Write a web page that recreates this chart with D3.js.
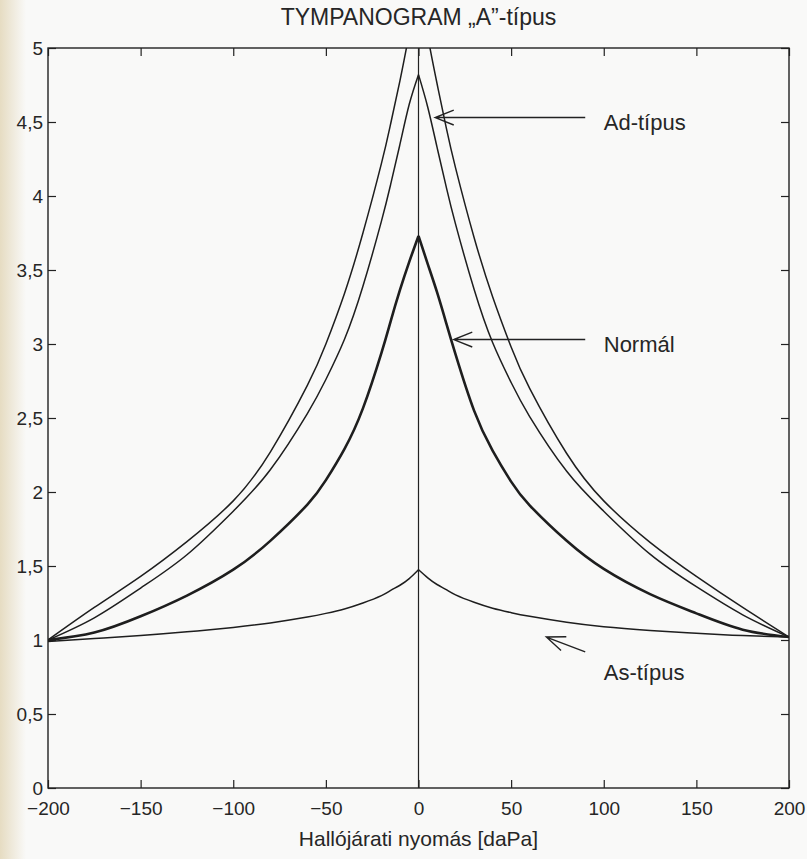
<!DOCTYPE html>
<html>
<head>
<meta charset="utf-8">
<script src="https://cdn.jsdelivr.net/npm/d3@7"></script>
<style>
  html, body { margin: 0; padding: 0; background: #f9f9f8; }
  svg { display: block; }
  text { font-family: "Liberation Sans", Arial, sans-serif; fill: #262626; }
</style>
</head>
<body>
<svg id="chart"></svg>
<script>

var width = 807,
	height = 859;

var pressure = [-200, -175, -150, -125, -100, -80, -60, -50, -40, -30, -20, -15, -10, -5, 0,
	5, 10, 15, 20, 30, 40, 50, 60, 80, 100, 125, 150, 175, 200];

// admittance values, one list per curve
var adType = [1.00, 1.22, 1.43, 1.665, 1.94, 2.27, 2.72, 3.00, 3.34, 3.75, 4.22, 4.49, 4.78, 5.10, 5.44,
	5.08, 4.76, 4.46, 4.19, 3.72, 3.32, 2.98, 2.70, 2.26, 1.94, 1.66, 1.43, 1.22, 1.02];
var highType = [1.00, 1.15, 1.351, 1.576, 1.87, 2.15, 2.53, 2.76, 3.03, 3.39, 3.83, 4.08, 4.35, 4.62, 4.82,
	4.60, 4.33, 4.06, 3.81, 3.37, 3.01, 2.74, 2.51, 2.14, 1.87, 1.58, 1.36, 1.17, 1.02];
var normal = [1.00, 1.05, 1.16, 1.30, 1.475, 1.67, 1.915, 2.08, 2.29, 2.565, 2.94, 3.155, 3.365, 3.555, 3.73,
	3.54, 3.35, 3.14, 2.93, 2.55, 2.28, 2.07, 1.91, 1.67, 1.48, 1.31, 1.18, 1.07, 1.02];
var asType = [0.99, 1.01, 1.03, 1.055, 1.085, 1.115, 1.155, 1.18, 1.21, 1.25, 1.30, 1.335, 1.37, 1.415, 1.475,
	1.42, 1.375, 1.34, 1.305, 1.255, 1.215, 1.185, 1.16, 1.12, 1.09, 1.065, 1.045, 1.03, 1.02];

var series = [adType, highType, normal, asType];
var seriesWidth = [1.5, 1.5, 2.6, 1.5];

var xTicks = [-200, -150, -100, -50, 0, 50, 100, 150, 200];
var xTickLabels = ["\u2212200", "\u2212150", "\u2212100", "\u221250", "0", "50", "100", "150", "200"];
var yTicks = [0, 0.5, 1, 1.5, 2, 2.5, 3, 3.5, 4, 4.5, 5];
var yTickLabels = ["0", "0,5", "1", "1,5", "2", "2,5", "3", "3,5", "4", "4,5", "5"];

// annotations: label, arrow tip, arrow tail, label anchor (data units)
var noteLabels = ["Ad-t\u00edpus", "Norm\u00e1l", "As-t\u00edpus"];
var noteTip = [[9, 4.53], [19, 3.03], [69, 1.02]];
var noteTail = [[90, 4.53], [90, 3.03], [90, 0.92]];
var noteText = [[100, 4.5], [100, 3.0], [100, 0.78]];

var margin = {top: 48, right: 18, bottom: 71, left: 48};

var svg = d3.select("#chart")
	.attr("width", width)
	.attr("height", height);

// faint yellowed edge of the scanned page
var grad = svg.append("defs").append("linearGradient").attr("id", "edge");
grad.append("stop").attr("offset", "0").attr("stop-color", "#e6dcc2");
grad.append("stop").attr("offset", "1").attr("stop-color", "#f9f9f8");
svg.append("rect").attr("width", 26).attr("height", height).attr("fill", "url(#edge)");

var x = d3.scaleLinear().domain([-200, 200]).range([margin.left, width - margin.right]);
var y = d3.scaleLinear().domain([0, 5]).range([height - margin.bottom, margin.top]);

svg.append("defs").append("clipPath").attr("id", "plot")
	.append("rect")
	.attr("x", x(-200)).attr("y", y(5))
	.attr("width", x(200) - x(-200)).attr("height", y(0) - y(5));

// axes, ticks pointing inward like the original
var axisStyle = function(g) {
	g.select(".domain").remove();
	g.selectAll(".tick line").attr("stroke", "#222").attr("stroke-width", 1.2);
	g.selectAll("text").attr("fill", "#262626").style("font-size", "19px")
		.style("font-family", "\"Liberation Sans\", Arial, sans-serif");
};

svg.append("g")
	.attr("transform", "translate(0," + y(0) + ")")
	.call(d3.axisBottom(x).tickValues(xTicks).tickSize(-8).tickPadding(14)
		.tickFormat(function(d, i) { return xTickLabels[i]; }))
	.call(axisStyle);

svg.append("g")
	.attr("transform", "translate(0," + y(5) + ")")
	.call(d3.axisTop(x).tickValues(xTicks).tickSize(-8).tickFormat(""))
	.call(axisStyle);

svg.append("g")
	.attr("transform", "translate(" + x(-200) + ",0)")
	.call(d3.axisLeft(y).tickValues(yTicks).tickSize(-8).tickPadding(5)
		.tickFormat(function(d, i) { return yTickLabels[i]; }))
	.call(axisStyle);

svg.append("g")
	.attr("transform", "translate(" + x(200) + ",0)")
	.call(d3.axisRight(y).tickValues(yTicks).tickSize(-8).tickFormat(""))
	.call(axisStyle);

svg.append("rect")
	.attr("x", x(-200)).attr("y", y(5))
	.attr("width", x(200) - x(-200)).attr("height", y(0) - y(5))
	.attr("fill", "none")
	.attr("stroke", "#222")
	.attr("stroke-width", 1.4);

// zero pressure line
svg.append("line")
	.attr("x1", x(0)).attr("x2", x(0))
	.attr("y1", y(0)).attr("y2", y(5))
	.attr("stroke", "#222")
	.attr("stroke-width", 1.2);

// curves: each half drawn separately so the peak stays a cusp
var line = d3.line()
	.x(function(d) { return x(d[0]); })
	.y(function(d) { return y(d[1]); })
	.curve(d3.curveNatural);

var curves = svg.append("g").attr("clip-path", "url(#plot)");

series.forEach(function(values, k) {
	var pts = pressure.map(function(p, i) { return [p, values[i]]; });
	var halves = [pts.filter(function(d) { return d[0] <= 0; }), pts.filter(function(d) { return d[0] >= 0; })];
	curves.selectAll(null)
		.data(halves)
		.enter()
		.append("path")
		.attr("d", line)
		.attr("fill", "none")
		.attr("stroke", "#1e1e1e")
		.attr("stroke-width", seriesWidth[k])
		.attr("stroke-linejoin", "round");
});

// arrows with open heads and labels
var notes = svg.append("g");
noteLabels.forEach(function(label, i) {
	var tx = x(noteTip[i][0]), ty = y(noteTip[i][1]);
	var sx = x(noteTail[i][0]), sy = y(noteTail[i][1]);
	var ang = Math.atan2(sy - ty, sx - tx);
	var len = 20, spread = 0.38;
	var path = "M" + sx + "," + sy + "L" + tx + "," + ty +
		"M" + (tx + len * Math.cos(ang + spread)) + "," + (ty + len * Math.sin(ang + spread)) +
		"L" + tx + "," + ty +
		"L" + (tx + len * Math.cos(ang - spread)) + "," + (ty + len * Math.sin(ang - spread));
	notes.append("path")
		.attr("d", path)
		.attr("fill", "none")
		.attr("stroke", "#222")
		.attr("stroke-width", 1.4);
	notes.append("text")
		.attr("x", x(noteText[i][0]))
		.attr("y", y(noteText[i][1]))
		.attr("dy", "0.35em")
		.style("font-size", "22px")
		.text(label);
});

svg.append("text")
	.attr("x", x(0))
	.attr("y", 25)
	.attr("text-anchor", "middle")
	.style("font-size", "23px")
	.text("TYMPANOGRAM \u201eA\u201d-t\u00edpus");

svg.append("text")
	.attr("x", x(0))
	.attr("y", 846)
	.attr("text-anchor", "middle")
	.style("font-size", "21px")
	.text("Hall\u00f3j\u00e1rati nyom\u00e1s [daPa]");

</script>
</body>
</html>
